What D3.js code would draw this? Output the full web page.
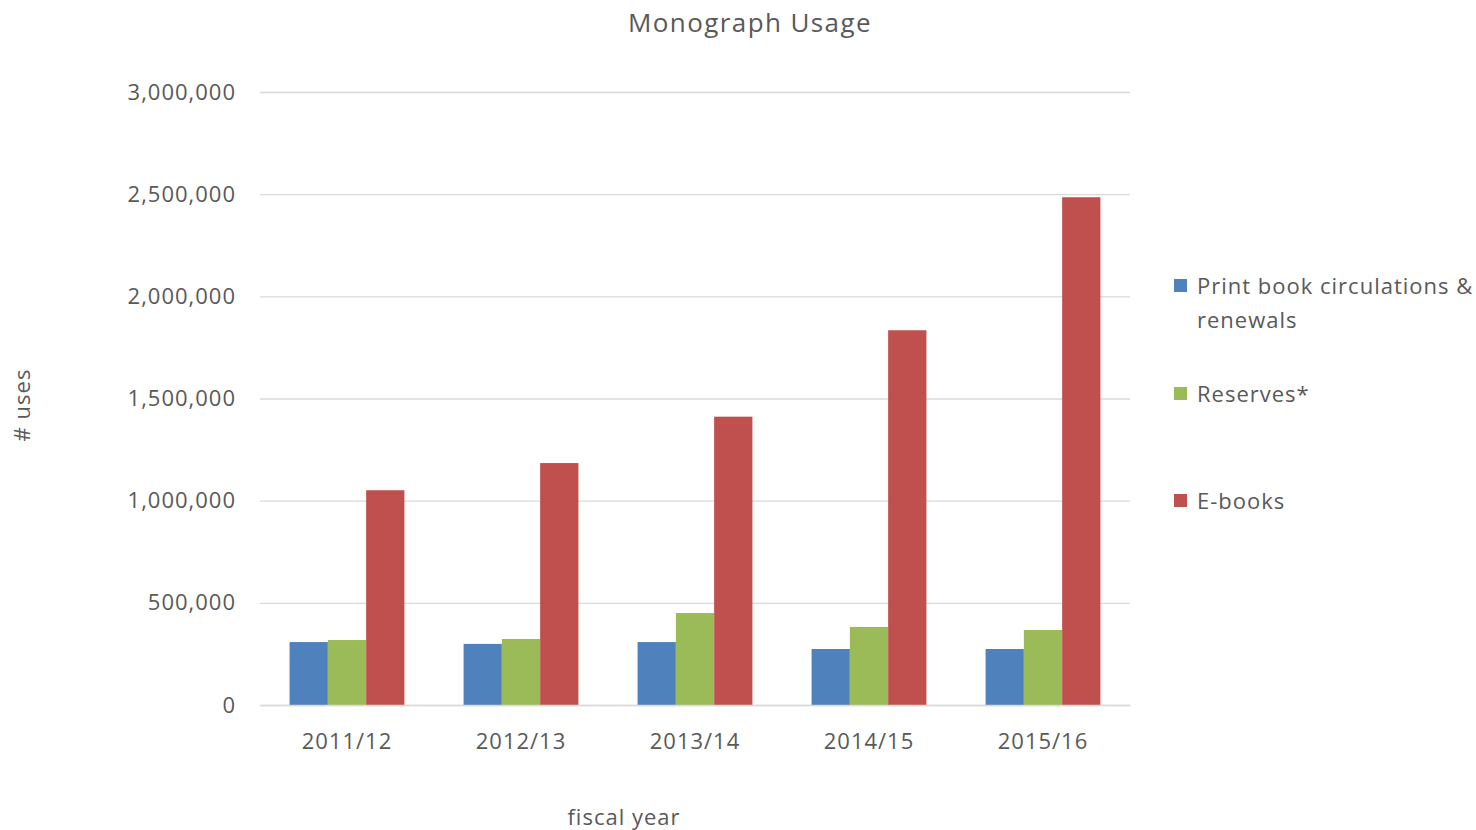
<!DOCTYPE html>
<html>
<head>
<meta charset="utf-8">
<script src="https://cdn.jsdelivr.net/npm/d3@7"></script>
<style>
  body { margin: 0; background: #fff; }
  svg text { font-family: "Open Sans", sans-serif; fill: #595959; letter-spacing: 1px; }
</style>
</head>
<body>
<div id="chart"></div>
<script>
const years = ["2011/12", "2012/13", "2013/14", "2014/15", "2015/16"];
const seriesNames = ["Print book circulations & renewals", "Reserves*", "E-books"];
const printBooks = [308000, 299000, 308000, 274000, 274000];
const reserves = [318000, 323000, 450000, 382000, 367000];
const eBooks = [1051000, 1184000, 1411000, 1834000, 2485000];
const yTicks = [0, 500000, 1000000, 1500000, 2000000, 2500000, 3000000];
const colors = ["#4f81bd", "#9bbb59", "#c0504d"];

const width = 1476, height = 830,
    margin = ({ top: 92, right: 346, bottom: 125, left: 260 });

const series = [printBooks, reserves, eBooks];
const data = years.map((y, i) => ({ year: y, values: series.map(s => s[i]) }));

let svg = d3.select("#chart")
    .append("svg")
    .attr("width", width)
    .attr("height", height);

let x = d3.scaleBand()
    .domain(years)
    .range([margin.left, width - margin.right])
    .paddingInner(0.34)
    .paddingOuter(0.17);

let xInner = d3.scaleBand()
    .domain(d3.range(series.length))
    .range([0, x.bandwidth()]);

let y = d3.scaleLinear()
    .domain([0, 3000000])
    .range([height - margin.bottom, margin.top]);

// gridlines + y labels
let yAxis = svg.append("g")
    .attr("transform", `translate(${margin.left},0)`)
    .call(d3.axisLeft(y)
        .tickValues(yTicks)
        .tickSize(-(width - margin.left - margin.right))
        .tickPadding(24)
        .tickFormat(d3.format(",")));
yAxis.select(".domain").remove();
yAxis.selectAll(".tick line").attr("stroke", "#d9d9d9").attr("stroke-width", 1.3);
yAxis.selectAll(".tick text").style("font-size", "22px").style("fill", "#595959");

// bars
let group = svg.selectAll(".year")
    .data(data)
    .join("g")
    .attr("class", "year")
    .attr("transform", d => `translate(${x(d.year)},0)`);

group.selectAll("rect")
    .data(d => d.values)
    .join("rect")
    .attr("x", (d, i) => xInner(i))
    .attr("width", xInner.bandwidth())
    .attr("y", d => y(d))
    .attr("height", d => y(0) - y(d))
    .attr("fill", (d, i) => colors[i]);

// x axis
let xAxis = svg.append("g")
    .attr("transform", `translate(0,${y(0)})`)
    .call(d3.axisBottom(x).tickSize(0).tickPadding(28));
xAxis.select(".domain").attr("stroke", "#d9d9d9").attr("stroke-width", 1.3);
xAxis.selectAll(".tick text").style("font-size", "22px").style("fill", "#595959");

// title
svg.append("text")
    .attr("x", 750)
    .attr("y", 32)
    .attr("text-anchor", "middle")
    .style("font-size", "26px")
    .style("letter-spacing", "1.4px")
    .text("Monograph Usage");

// axis titles
svg.append("text")
    .attr("x", 624)
    .attr("y", 825)
    .attr("text-anchor", "middle")
    .style("font-size", "22px")
    .text("fiscal year");

svg.append("text")
    .attr("transform", "translate(30,405) rotate(-90)")
    .attr("text-anchor", "middle")
    .style("font-size", "22px")
    .text("# uses");

// legend
const legendRows = [
    { lines: ["Print book circulations &", "renewals"], y: 286 },
    { lines: ["Reserves*"], y: 394 },
    { lines: ["E-books"], y: 501 }
];

let legend = svg.selectAll(".legend")
    .data(legendRows)
    .join("g")
    .attr("class", "legend")
    .attr("transform", d => `translate(1174,${d.y})`);

legend.append("rect")
    .attr("x", 0)
    .attr("y", -7)
    .attr("width", 13)
    .attr("height", 13)
    .attr("fill", (d, i) => colors[i]);

legend.append("text")
    .attr("x", 23)
    .attr("y", 2)
    .attr("dominant-baseline", "middle")
    .style("font-size", "22px")
    .selectAll("tspan")
    .data(d => d.lines)
    .join("tspan")
    .attr("x", 23)
    .attr("dy", (d, i) => i === 0 ? 0 : 34)
    .text(d => d);
</script>
</body>
</html>
